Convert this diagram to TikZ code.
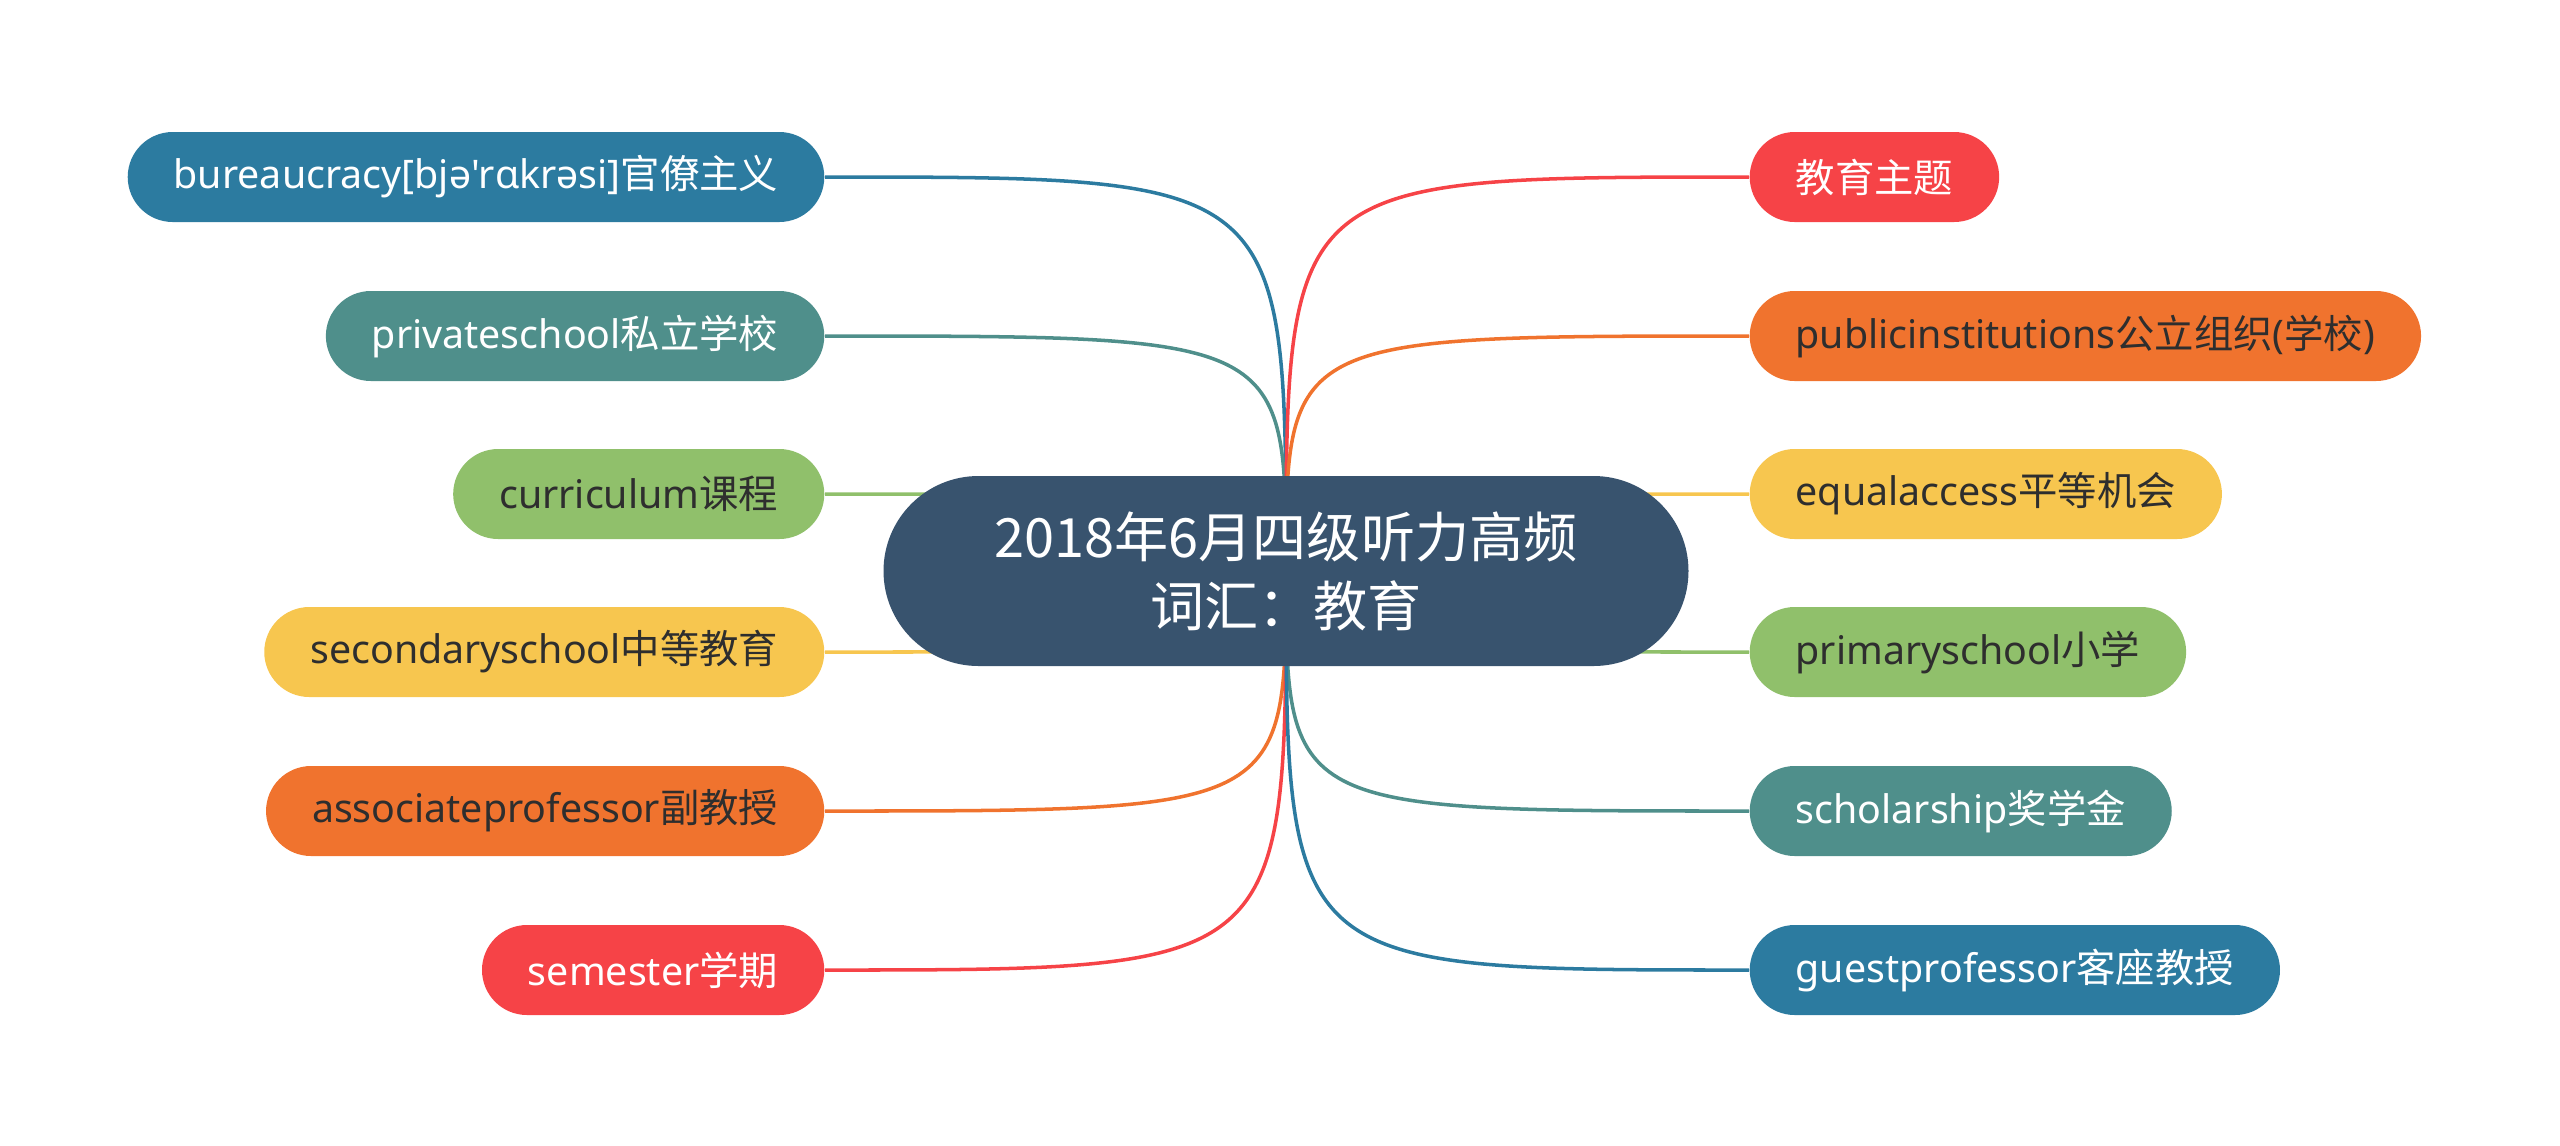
\documentclass[tikz,border=0pt]{standalone}
\usepackage{fontspec}
\setmainfont{Noto Sans}[Ligatures=TeXOff]
\newfontfamily\cjk{Noto Sans CJK SC}
\usetikzlibrary{backgrounds}

\definecolor{cblue}{HTML}{2C7BA0}
\definecolor{cteal}{HTML}{4F8F8B}
\definecolor{cgreen}{HTML}{90C06B}
\definecolor{cyellow}{HTML}{F7C64F}
\definecolor{corange}{HTML}{F0732E}
\definecolor{cred}{HTML}{F64347}
\definecolor{croot}{HTML}{38536E}
\definecolor{cdark}{HTML}{2E2E2E}

\begin{document}
\begin{tikzpicture}[
    leaf/.style={rounded corners=0.45cm, minimum height=0.9cm, inner xsep=0.46cm,
      inner ysep=0pt, font=\fontsize{11.2pt}{13pt}\selectfont},
    root/.style={rounded corners=0.95cm, minimum width=8.05cm, minimum height=1.9cm,
      fill=croot, text=white, align=center, font=\cjk\fontsize{15.4pt}{19.6pt}\selectfont},
    link/.style={line width=1pt}
  ]
  \useasboundingbox (0,0) rectangle (25.6,-11.45);

  \node [root] (c) at (12.86,-5.71) {2018年6月四级听力高频\\词汇：教育};

  % left side
  \node [leaf, fill=cblue, text=white, anchor=east] (bur) at (8.25,-1.77)
    {bureaucracy[bjə'rɑkrəsi]{\cjk 官僚主义}};
  \node [leaf, fill=cteal, text=white, anchor=east] (pri) at (8.25,-3.36) {privateschool{\cjk 私立学校}};
  \node [leaf, fill=cgreen, text=cdark, anchor=east] (cur) at (8.25,-4.94) {curriculum{\cjk 课程}};
  \node [leaf, fill=cyellow, text=cdark, anchor=east] (sec) at (8.25,-6.52) {secondaryschool{\cjk 中等教育}};
  \node [leaf, fill=corange, text=cdark, anchor=east] (aso) at (8.25,-8.11) {associateprofessor{\cjk 副教授}};
  \node [leaf, fill=cred, text=white, anchor=east] (sem) at (8.25,-9.70) {semester{\cjk 学期}};

  % right side
  \node [leaf, fill=cred, text=white, anchor=west] (top) at (17.49,-1.77) {\cjk 教育主题};
  \node [leaf, fill=corange, text=cdark, anchor=west] (pub) at (17.49,-3.36) {publicinstitutions{\cjk 公立组织}({\cjk 学校})};
  \node [leaf, fill=cyellow, text=cdark, anchor=west] (equ) at (17.49,-4.94) {equalaccess{\cjk 平等机会}};
  \node [leaf, fill=cgreen, text=cdark, anchor=west] (prm) at (17.49,-6.52) {primaryschool{\cjk 小学}};
  \node [leaf, fill=cteal, text=white, anchor=west] (sch) at (17.49,-8.11) {scholarship{\cjk 奖学金}};
  \node [leaf, fill=cblue, text=white, anchor=west] (gue) at (17.49,-9.70) {guestprofessor{\cjk 客座教授}};

  \begin{scope}[on background layer]
    \draw [link, cblue] (bur.east) .. controls (bur.east -| c.center) .. (c.center);
    \draw [link, cteal] (pri.east) .. controls (pri.east -| c.center) .. (c.center);
    \draw [link, cgreen] (cur.east) .. controls (cur.east -| c.center) .. (c.center);
    \draw [link, cyellow] (sec.east) .. controls (sec.east -| c.center) .. (c.center);
    \draw [link, corange] (aso.east) .. controls (aso.east -| c.center) .. (c.center);
    \draw [link, cred] (sem.east) .. controls (sem.east -| c.center) .. (c.center);
    \draw [link, cred] (top.west) .. controls (top.west -| c.center) .. (c.center);
    \draw [link, corange] (pub.west) .. controls (pub.west -| c.center) .. (c.center);
    \draw [link, cyellow] (equ.west) .. controls (equ.west -| c.center) .. (c.center);
    \draw [link, cgreen] (prm.west) .. controls (prm.west -| c.center) .. (c.center);
    \draw [link, cteal] (sch.west) .. controls (sch.west -| c.center) .. (c.center);
    \draw [link, cblue] (gue.west) .. controls (gue.west -| c.center) .. (c.center);
  \end{scope}
\end{tikzpicture}
\end{document}
